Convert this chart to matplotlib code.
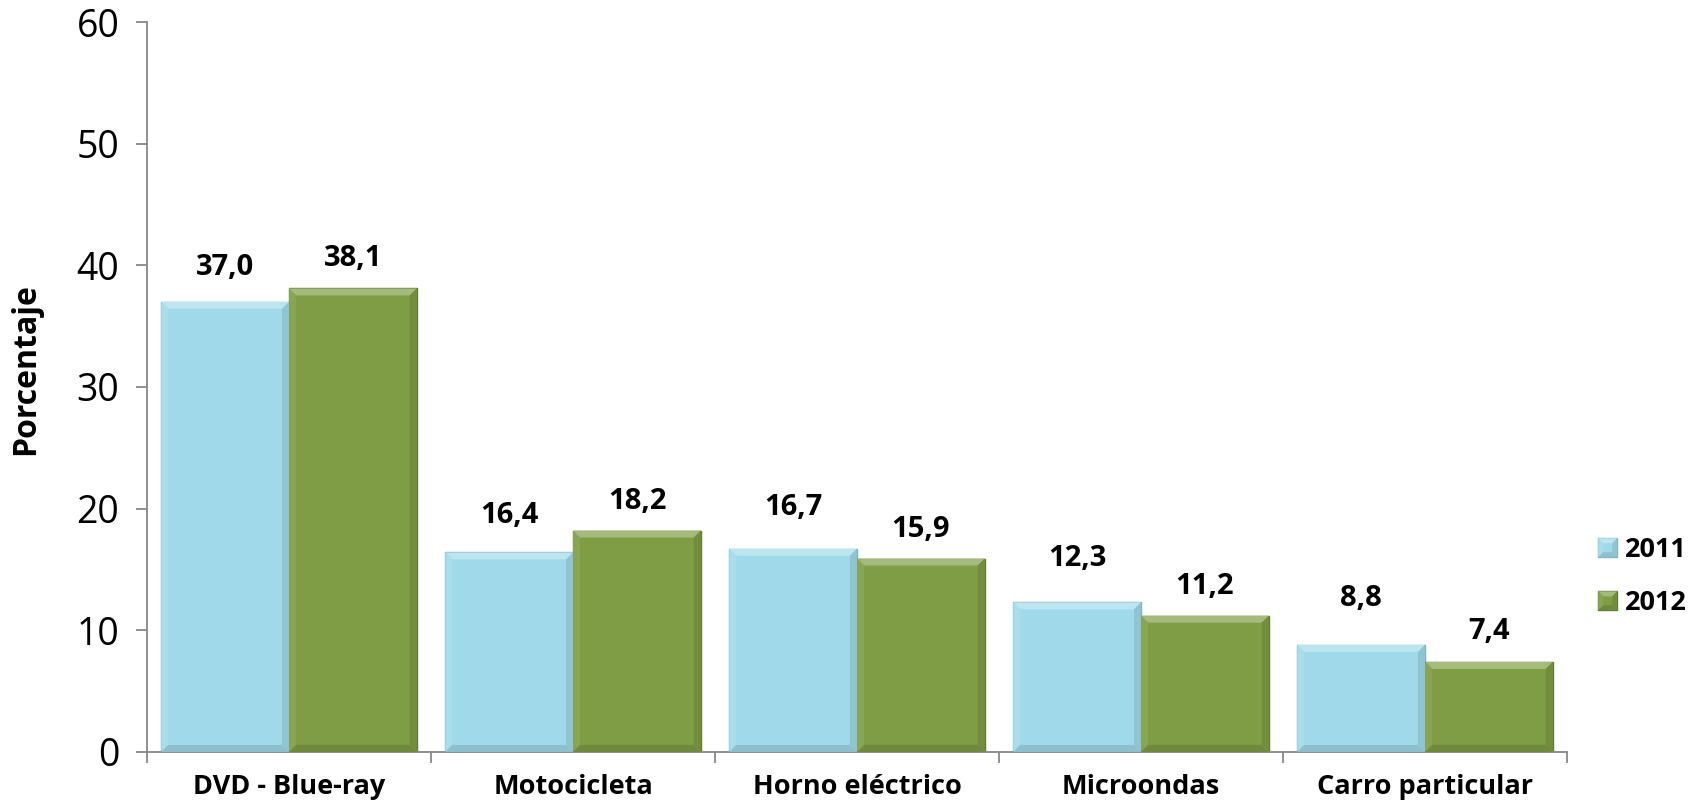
import matplotlib
matplotlib.use("Agg")
import matplotlib.pyplot as plt
import numpy as np
from matplotlib.patches import Polygon
from matplotlib.transforms import IdentityTransform
from matplotlib.colors import to_rgb

categorias = ["DVD - Blue-ray", "Motocicleta", "Horno eléctrico", "Microondas", "Carro particular"]
v2011 = [37.0, 16.4, 16.7, 12.3, 8.8]
v2012 = [38.1, 18.2, 15.9, 11.2, 7.4]
series = ["2011", "2012"]

# label gap above each bar, in pixels (labels were nudged by hand in the original)
gap2011 = [27, 29, 34, 36, 39]
gap2012 = [22, 22, 22, 22, 23]

azul = "#A0DAEA"
verde = "#7F9D45"

plt.rcParams["font.family"] = ["Open Sans", "DejaVu Sans"]

fig = plt.figure(figsize=(17.04, 8.09), dpi=100)
ax = fig.add_axes([0.0863, 0.0705, 0.8333, 0.9023])

x = np.arange(len(categorias))
w = 0.45
b1 = ax.bar(x - w / 2, v2011, w, color=azul, edgecolor="#7FB3C2", linewidth=1, label=series[0], zorder=2)
b2 = ax.bar(x + w / 2, v2012, w, color=verde, edgecolor="#5F7A32", linewidth=1, label=series[1], zorder=2)

ax.set_xlim(-0.5, len(categorias) - 0.5)
ax.set_ylim(0, 60)
ax.set_yticks(range(0, 61, 10))
ax.set_xticks(np.arange(-0.5, len(categorias), 1.0), minor=False)
ax.set_xticklabels([])
ax.set_xticks(x, minor=True)
ax.set_xticklabels(categorias, minor=True, fontsize=19.5, fontweight="bold")
ax.tick_params(axis="x", which="minor", length=0, pad=16)
ax.tick_params(axis="x", which="major", length=8, color="#888888", width=1.3)
ax.tick_params(axis="y", length=8, color="#888888", width=1.3, labelsize=27, pad=12)
for s in ["top", "right"]:
    ax.spines[s].set_visible(False)
for s in ["left", "bottom"]:
    ax.spines[s].set_color("#888888")
    ax.spines[s].set_linewidth(1.3)
ax.set_ylabel("Porcentaje", fontsize=23, fontweight="bold")
ax.yaxis.set_label_coords(-0.074, 0.525)

for bars, vals, gaps in [(b1, v2011, gap2011), (b2, v2012, gap2012)]:
    for r, v, g in zip(bars, vals, gaps):
        ax.annotate(f"{v:.1f}".replace(".", ","), (r.get_x() + r.get_width() / 2, v),
                    xytext=(0, g * 0.72), textcoords="offset points", ha="center", va="baseline",
                    fontsize=21, fontweight="bold")

leg = ax.legend(loc="center left", bbox_to_anchor=(1.022, 0.24), frameon=False,
                borderaxespad=0, borderpad=0,
                prop={"size": 19.5, "weight": "bold"}, handlelength=0.7, handleheight=0.7,
                handletextpad=0.3, labelspacing=1.0)

# bevel effect drawn in pixel space from each bar's extent
fig.canvas.draw()


def shade(c, f):
    r = np.array(to_rgb(c))
    if f > 0:
        return tuple(r + (1 - r) * f)
    return tuple(r * (1 + f))


def bevel(rect, col, bp, z=3):
    bb = rect.get_window_extent()
    x0, y0, x1, y1 = bb.x0, bb.y0, bb.x1, bb.y1
    bp = min(bp, (x1 - x0) / 3, (y1 - y0) / 3)
    faces = [
        ([(x0, y1), (x1, y1), (x1 - bp, y1 - bp), (x0 + bp, y1 - bp)], 0.3),
        ([(x0, y0), (x0, y1), (x0 + bp, y1 - bp), (x0 + bp, y0 + bp)], 0.08),
        ([(x1, y0), (x1, y1), (x1 - bp, y1 - bp), (x1 - bp, y0 + bp)], -0.1),
        ([(x0, y0), (x1, y0), (x1 - bp, y0 + bp), (x0 + bp, y0 + bp)], -0.12),
    ]
    for pts, f in faces:
        fig.patches.append(Polygon(pts, closed=True, transform=IdentityTransform(),
                                   facecolor=shade(col, f), edgecolor="none", zorder=z))


for bars, col in [(b1, azul), (b2, verde)]:
    for r in bars:
        bevel(r, col, 7)
for h, col in zip(leg.legend_handles, [azul, verde]):
    bevel(h, col, 5)

fig.savefig("out.png", dpi=100)
